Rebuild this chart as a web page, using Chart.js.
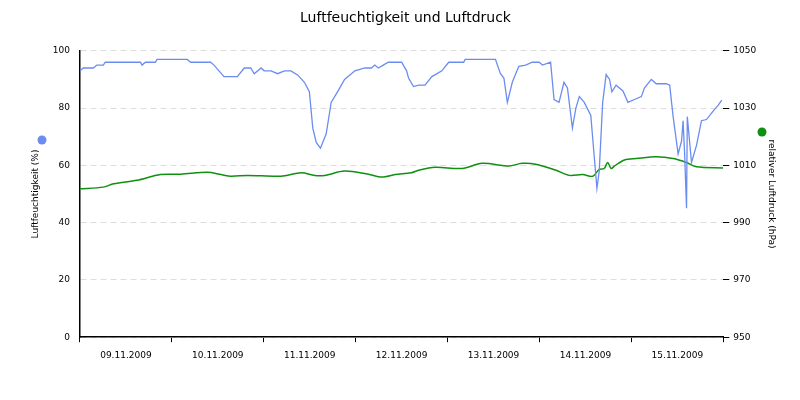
<!DOCTYPE html>
<html>
<head>
<meta charset="utf-8">
<script src="https://cdn.jsdelivr.net/npm/chart.js@4"></script>
<style>body{margin:0;background:#fff}</style>
</head>
<body>
<canvas id="c" width="800" height="400"></canvas>
<script>
// hours since 09.11.2009 00:00
const humHours = [0,0.9,3.5,4.4,6.1,6.6,15.8,16.2,17.1,19.7,20.1,28,28.9,34.1,35,36.3,37.6,41.1,42.9,44.6,45.5,47.3,48.1,49.9,51.6,53.4,55.1,56.9,58.6,59.9,60.8,61.7,62.8,64.3,65.6,67.4,69.1,71.8,74.4,76.1,77,77.9,79.2,80.5,84,85.3,85.8,87.1,88.4,90.1,91.9,94.5,96.3,100.2,100.6,108.5,109.8,110.7,111.6,112.9,114.6,116.4,118.1,119.9,120.8,122.9,123.8,125.1,126.4,127.3,128.6,129.5,130.4,131.7,133.4,134.3,135,135.6,136.5,137.4,138.3,138.9,140,141.8,143.1,144.8,146.6,147.4,149.2,150.5,153.1,154,154.9,156.2,157.1,157.5,157.9,158.4,158.6,159.7,161,162.3,163.6,165.4,166.7,167.6];
const humidity = [93,94,94,95,95,96,96,95,96,96,97,97,96,96,95,93,91,91,94,94,92,94,93,93,92,93,93,91.5,89,85.7,73,68,66,71,82,86,90,93,94,94,95,94,95,96,96,93,90.5,87.5,88,88,91,93,96,96,97,97,92,90.5,82,89,94.6,95,96,96,95,96,83,82,89,87,73,80,84,82,77.4,63,52,58,82,91.7,90,85.7,88,86,82,83,84,87,90,88.5,88.5,88,77,64,68.5,75.6,64,45,77,61,67,75.6,76,79,81,82.8];
const presHours = [0,6.1,8.8,14.9,21,26.3,33.3,36.8,39.4,43.8,52.5,57.8,61.3,63.9,69.1,75.3,78.8,82.3,86.5,88.4,92.8,99.8,105,112,115.5,119,124.3,127.8,131.3,133.9,135.6,136.9,137.8,138.7,139.6,142.2,145.3,150.5,154.9,158.4,161,168];
const pressure = [1001.8,1002.4,1003.6,1004.8,1006.8,1006.9,1007.6,1006.8,1006.2,1006.5,1006.2,1007.4,1006.5,1006.5,1008,1006.9,1005.9,1006.8,1007.4,1008.3,1009.3,1008.9,1010.7,1009.8,1010.7,1010.4,1008.3,1006.5,1006.8,1006.2,1008.6,1008.9,1011,1008.9,1009.8,1011.9,1012.4,1013,1012.4,1011,1009.5,1009.1];
const dayLabels = ['09.11.2009','10.11.2009','11.11.2009','12.11.2009','13.11.2009','14.11.2009','15.11.2009'];

Chart.defaults.font.family = 'DejaVu Sans';
Chart.defaults.color = '#000';

// coloured markers next to the axis titles
const dots = {
  id: 'dots',
  afterDraw(chart) {
    const ctx = chart.ctx;
    ctx.save();
    ctx.fillStyle = '#6b8cf0';
    ctx.beginPath(); ctx.arc(42, 140, 4.5, 0, Math.PI * 2); ctx.fill();
    ctx.fillStyle = '#109010';
    ctx.beginPath(); ctx.arc(762, 132, 4.5, 0, Math.PI * 2); ctx.fill();
    ctx.restore();
  }
};

new Chart(document.getElementById('c'), {
  type: 'line',
  data: {
    datasets: [
      { label: 'Luftfeuchtigkeit', data: humHours.map((h, i) => ({ x: h, y: humidity[i] })),
        borderColor: '#6b8cf0', borderWidth: 1.3, pointRadius: 0, tension: 0, yAxisID: 'y' },
      { label: 'Luftdruck', data: presHours.map((h, i) => ({ x: h, y: pressure[i] })),
        borderColor: '#109010', borderWidth: 1.5, pointRadius: 0, tension: 0.3, yAxisID: 'y2' }
    ]
  },
  options: {
    responsive: false,
    animation: false,
    layout: { padding: { top: 0, right: 17, bottom: 39, left: 28 } },
    plugins: {
      legend: { display: false },
      tooltip: { enabled: false },
      title: { display: true, text: 'Luftfeuchtigkeit und Luftdruck', font: { size: 14, weight: 'normal' }, padding: { top: 10, bottom: 24 } }
    },
    scales: {
      x: {
        type: 'linear', min: 0, max: 168, position: 'bottom',
        afterBuildTicks: a => { a.ticks = [0,24,48,72,96,120,144,168].map(v => ({ value: v })); },
        ticks: { display: false },
        grid: { drawOnChartArea: false, color: '#000', tickLength: 5 },
        border: { color: '#000', width: 1.5 }
      },
      x2: {
        type: 'linear', min: 0, max: 168, position: 'bottom',
        afterBuildTicks: a => { a.ticks = dayLabels.map((_, i) => ({ value: 12 + 24 * i })); },
        ticks: { font: { size: 9 }, padding: 0, maxRotation: 0, callback: (v) => dayLabels[Math.round((v - 12) / 24)] },
        grid: { display: false },
        border: { display: false }
      },
      y: {
        min: 0, max: 100, position: 'left',
        ticks: { stepSize: 20, font: { size: 9 }, padding: 10 },
        grid: { color: '#dddddd', drawTicks: false },
        border: { color: '#000', width: 1.5, dash: [6, 4] },
        title: { display: true, text: 'Luftfeuchtigkeit (%)', font: { size: 9 }, padding: 2 }
      },
      y2: {
        min: 950, max: 1050, position: 'right',
        ticks: { stepSize: 20, font: { size: 9 }, padding: 4, format: { useGrouping: false } },
        grid: { drawOnChartArea: false, color: '#000', tickLength: 6 },
        border: { display: false },
        title: { display: true, text: 'relativer Luftdruck (hPa)', font: { size: 9 }, padding: 6 }
      }
    }
  },
  plugins: [dots]
});
</script>
</body>
</html>
